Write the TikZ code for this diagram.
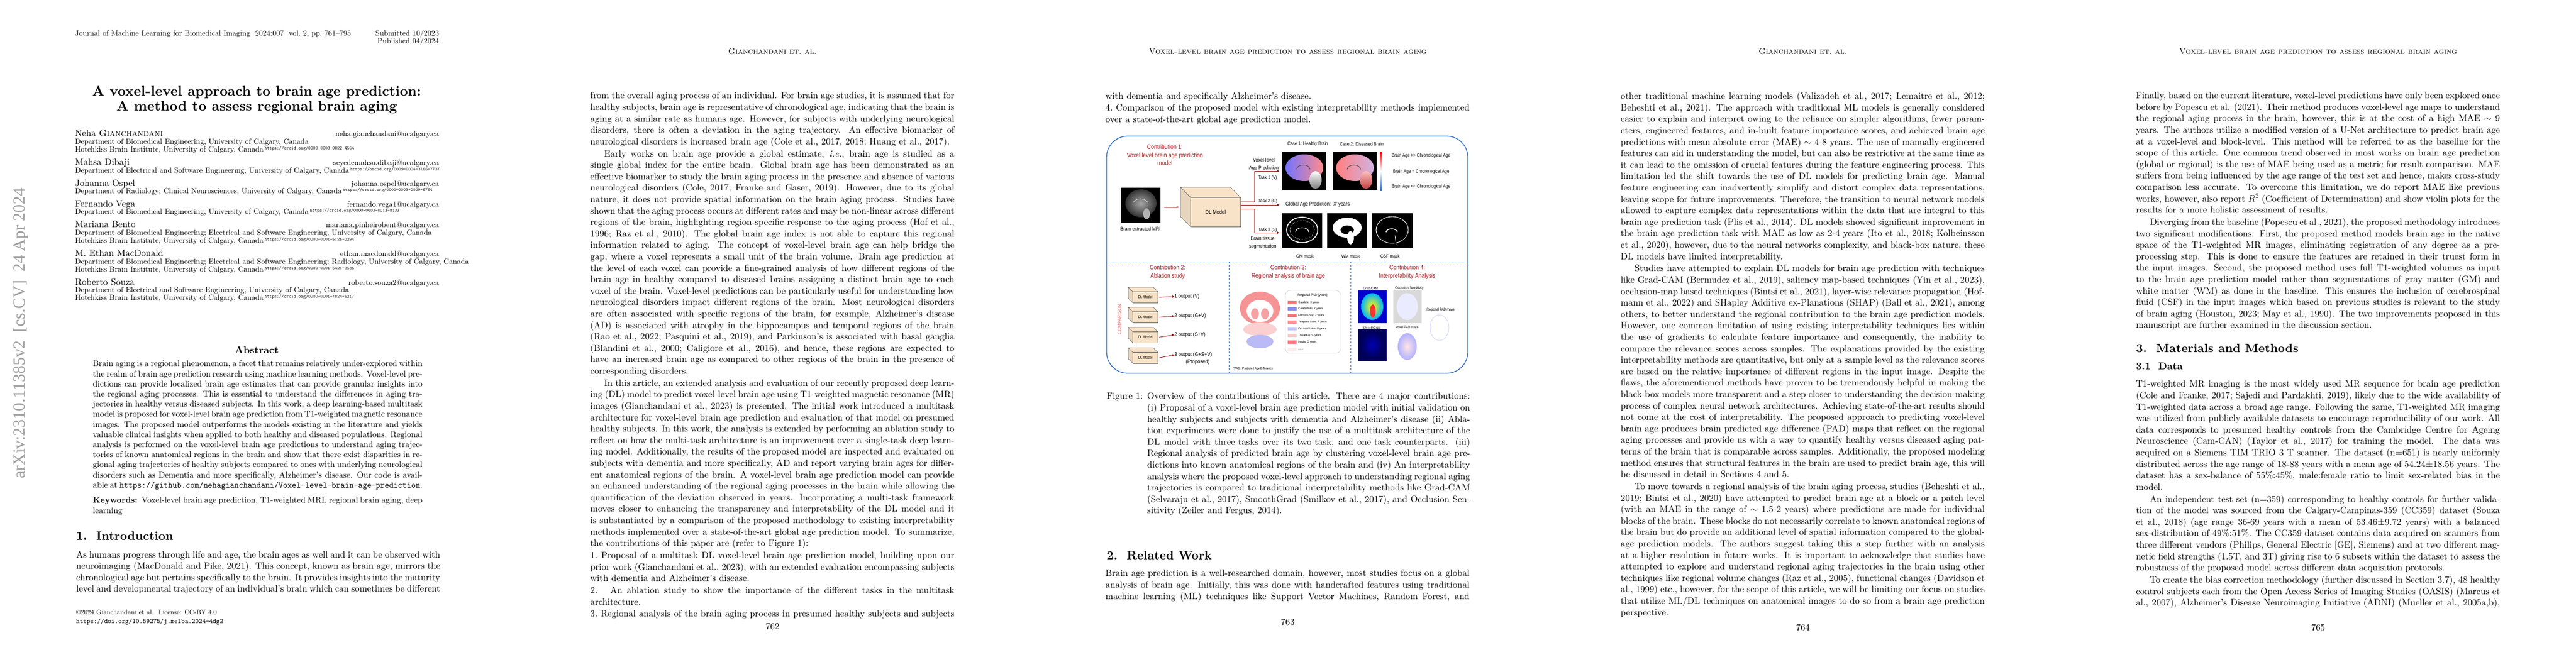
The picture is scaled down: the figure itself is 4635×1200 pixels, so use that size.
\documentclass[tikz,border=0pt]{standalone}
\usepackage{fontspec}
\setmainfont{lmroman10-regular.otf}[BoldFont=lmroman10-bold.otf,ItalicFont=lmroman10-italic.otf,BoldItalicFont=lmroman10-bolditalic.otf,SmallCapsFont=lmromancaps10-regular.otf]
\setmonofont{lmmono10-regular.otf}
\newfontfamily\fsans[FakeStretch=0.86]{Liberation Sans}
\newfontfamily\stampfont{Liberation Serif}
\usetikzlibrary{arrows.meta,calc}
\definecolor{cred}{HTML}{A3161B}
\definecolor{carr}{HTML}{9B1B1B}
\definecolor{cblue}{HTML}{2E6CC0}
\definecolor{cbeige}{HTML}{F9E3C8}
\definecolor{cpink}{HTML}{F2797B}
\definecolor{clblue}{HTML}{8C8CF0}
\newcommand{\body}{\fontsize{16.6}{20.6}\selectfont}
\newcommand{\ptblock}[4]{\node[anchor=north west,inner sep=0pt] (#1) at (#2,#3) {\begin{minipage}{655pt}\body\setlength\parindent{25pt}\setlength\parskip{1.2pt}#4\end{minipage}};}
\newcommand{\mycube}[7]{%
 \fill[cbeige,draw=gray!80!black,line width=0.5pt] (#2,#3) -- ({#2-#6},{#3-#6}) -- ({#2+#4-#6},{#3-#6}) -- ({#2+#4},#3) -- cycle;
 \fill[cbeige!85!gray,draw=gray!80!black,line width=0.5pt] (#2,#3) -- ({#2-#6},{#3-#6}) -- ({#2-#6},{#3+#5-#6}) -- (#2,{#3+#5}) -- cycle;
 \node[fill=cbeige,draw=gray!80!black,line width=0.5pt,minimum width=#4pt,minimum height=#5pt,anchor=north west,inner sep=0pt,font=\fsans\fontsize{#7}{#7}\selectfont] (#1) at (#2,#3) {DL Model};}
\tikzset{
 arr/.style={carr,line width=0.9pt,-{Triangle[length=4pt,width=4pt]}},
 fl/.style={inner sep=0pt,font=\fsans\fontsize{8.6}{10}\selectfont},
 ctitle/.style={inner sep=0pt,text=cred,align=center,font=\fsans\fontsize{11.5}{14.5}\selectfont},
 leg/.style={inner sep=0pt,anchor=west,font=\fsans\fontsize{5.6}{6}\selectfont},
 hdr/.style={inner sep=0pt,anchor=base,font=\fontsize{15}{18}\selectfont\scshape},
 pno/.style={inner sep=0pt,anchor=base,font=\fontsize{16.6}{20}\selectfont},
 sect/.style={inner sep=0pt,anchor=base west,font=\fontsize{21.8}{26}\selectfont\bfseries},
 aname/.style={inner sep=0pt,anchor=base west,font=\fontsize{16.6}{20}\selectfont},
 adept/.style={inner sep=0pt,anchor=base west,font=\fontsize{13.6}{16}\selectfont},
 amail/.style={inner sep=0pt,anchor=base east,font=\fontsize{13.6}{16}\selectfont},
}
\newcommand{\orc}[1]{\,\raisebox{4pt}{\ttfamily\fontsize{8.3}{9}\selectfont https://orcid.org/#1}}
\begin{document}
\begin{tikzpicture}[x=1pt,y=-1pt]
\useasboundingbox (0,0) rectangle (4635,1200);
\fill[white] (0,0) rectangle (4635,1200);
% ================= PAGE 1 =================
\node[rotate=90,inner sep=0pt,text=gray!75] (stamp) at (37,600) {\stampfont\fontsize{30}{30}\selectfont arXiv:2310.11385v2\ \ [cs.CV]\ \ 24 Apr 2024};
\node[inner sep=0pt,anchor=base west,font=\fontsize{13.6}{16}\selectfont] (jn) at (135,64) {Journal of Machine Learning for Biomedical Imaging\ \ 2024:007\ \ vol.~2, pp.~761--795};
\node[inner sep=0pt,anchor=base east,font=\fontsize{13.6}{16}\selectfont] (sub) at (790,64) {Submitted 10/2023};
\node[inner sep=0pt,anchor=base east,font=\fontsize{13.6}{16}\selectfont] (pub) at (790,78) {Published 04/2024};
\node[inner sep=0pt,anchor=base,font=\fontsize{25}{30}\selectfont\bfseries] (t1) at (462,172) {A voxel-level approach to brain age prediction:};
\node[inner sep=0pt,anchor=base,font=\fontsize{25}{30}\selectfont\bfseries] (t2) at (462,199) {A method to assess regional brain aging};
\node[aname] (n1) at (135,245) {Neha \textsc{Gianchandani}};
\node[amail] (e1) at (790,245) {neha.gianchandani@ucalgary.ca};
\node[adept] (d1a) at (135,259) {Department of Biomedical Engineering, University of Calgary, Canada};
\node[adept] (d1b) at (135,273) {Hotchkiss Brain Institute, University of Calgary, Canada\orc{0000-0003-0822-4554}};
\node[aname] (n2) at (135,297) {Mahsa Dibaji};
\node[amail] (e2) at (790,297) {seyedemahsa.dibaji@ucalgary.ca};
\node[adept] (d2a) at (135,311) {Department of Electrical and Software Engineering, University of Calgary, Canada\orc{0009-0004-3166-7737}};
\node[aname] (n3) at (135,335) {Johanna Ospel};
\node[amail] (e3) at (790,335) {johanna.ospel@ucalgary.ca};
\node[adept] (d3a) at (135,348) {Department of Radiology; Clinical Neurosciences, University of Calgary, Canada\orc{0000-0003-0029-6764}};
\node[aname] (n4) at (135,372) {Fernando Vega};
\node[amail] (e4) at (790,372) {fernando.vega1@ucalgary.ca};
\node[adept] (d4a) at (135,385) {Department of Biomedical Engineering, University of Calgary, Canada\orc{0000-0003-0013-8133}};
\node[aname] (n5) at (135,409) {Mariana Bento};
\node[amail] (e5) at (790,409) {mariana.pinheirobent@ucalgary.ca};
\node[adept] (d5a) at (135,423) {Department of Biomedical Engineering; Electrical and Software Engineering, University of Calgary, Canada};
\node[adept] (d5b) at (135,437) {Hotchkiss Brain Institute, University of Calgary, Canada\orc{0000-0001-5125-0294}};
\node[aname] (n6) at (135,461) {M. Ethan MacDonald};
\node[amail] (e6) at (790,461) {ethan.macdonald@ucalgary.ca};
\node[adept] (d6a) at (135,475) {Department of Biomedical Engineering; Electrical and Software Engineering; Radiology, University of Calgary, Canada};
\node[adept] (d6b) at (135,489) {Hotchkiss Brain Institute, University of Calgary, Canada\orc{0000-0001-5421-3536}};
\node[aname] (n7) at (135,513) {Roberto Souza};
\node[amail] (e7) at (790,513) {roberto.souza2@ucalgary.ca};
\node[adept] (d7a) at (135,526) {Department of Electrical and Software Engineering, University of Calgary, Canada};
\node[adept] (d7b) at (135,540) {Hotchkiss Brain Institute, University of Calgary, Canada\orc{0000-0001-7824-5217}};
\node[inner sep=0pt,anchor=base,font=\fontsize{18}{20}\selectfont\bfseries] (abs) at (462,636) {Abstract};
\node[anchor=north west,inner sep=0pt] (abst) at (167,649) {\begin{minipage}{593pt}\fontsize{15.15}{18.2}\selectfont
Brain aging is a regional phenomenon, a facet that remains relatively under-explored within the realm of brain age prediction research using machine learning methods. Voxel-level predictions can provide localized brain age estimates that can provide granular insights into the regional aging processes. This is essential to understand the differences in aging trajectories in healthy versus diseased subjects. In this work, a deep learning-based multitask model is proposed for voxel-level brain age prediction from T1-weighted magnetic resonance images. The proposed model outperforms the models existing in the literature and yields valuable clinical insights when applied to both healthy and diseased populations. Regional analysis is performed on the voxel-level brain age predictions to understand aging trajectories of known anatomical regions in the brain and show that there exist disparities in regional aging trajectories of healthy subjects compared to ones with underlying neurological disorders such as Dementia and more specifically, Alzheimer's disease. Our code is available at \texttt{https://github.com/nehagianchandani/Voxel-level-brain-age-prediction}.\par\vspace{9.5pt}
\textbf{Keywords:}\ \ Voxel-level brain age prediction, T1-weighted MRI, regional brain aging, deep learning\end{minipage}};
\node[sect] (s1) at (137,972) {1.\ \ Introduction};
\node[anchor=north west,inner sep=0pt] (p1t) at (137,992) {\begin{minipage}{655pt}\body
As humans progress through life and age, the brain ages as well and it can be observed with neuroimaging (MacDonald and Pike, 2021). This concept, known as brain age, mirrors the chronological age but pertains specifically to the brain. It provides insights into the maturity level and developmental trajectory of an individual's brain which can sometimes be different{\parfillskip=0pt\par}\end{minipage}};
\node[inner sep=0pt,anchor=north west,align=left,font=\fontsize{12}{16}\selectfont] (copy) at (137,1098) {\copyright2024 Gianchandani et al.. License: CC-BY 4.0\\ \texttt{https://doi.org/10.59275/j.melba.2024-4dg2}};
% ================= PAGE 2 =================
\node[hdr] (h2) at (1390,97) {Gianchandani et.\ al.};
\ptblock{p2t}{1062}{166}{\noindent from the overall aging process of an individual. For brain age studies, it is assumed that for healthy subjects, brain age is representative of chronological age, indicating that the brain is aging at a similar rate as humans age. However, for subjects with underlying neurological disorders, there is often a deviation in the aging trajectory. An effective biomarker of neurological disorders is increased brain age (Cole et al., 2017, 2018; Huang et al., 2017).

Early works on brain age provide a global estimate, \textit{i.e.}, brain age is studied as a single global index for the entire brain. Global brain age has been demonstrated as an effective biomarker to study the brain aging process in the presence and absence of various neurological disorders (Cole, 2017; Franke and Gaser, 2019). However, due to its global nature, it does not provide spatial information on the brain aging process. Studies have shown that the aging process occurs at different rates and may be non-linear across different regions of the brain, highlighting region-specific response to the aging process (Hof et al., 1996; Raz et al., 2010). The global brain age index is not able to capture this regional information related to aging. The concept of voxel-level brain age can help bridge the gap, where a voxel represents a small unit of the brain volume. Brain age prediction at the level of each voxel can provide a fine-grained analysis of how different regions of the brain age in healthy compared to diseased brains assigning a distinct brain age to each voxel of the brain. Voxel-level predictions can be particularly useful for understanding how neurological disorders impact different regions of the brain. Most neurological disorders are often associated with specific regions of the brain, for example, Alzheimer's disease (AD) is associated with atrophy in the hippocampus and temporal regions of the brain (Rao et al., 2022; Pasquini et al., 2019), and Parkinson's is associated with basal ganglia (Blandini et al., 2000; Caligiore et al., 2016), and hence, these regions are expected to have an increased brain age as compared to other regions of the brain in the presence of corresponding disorders.

In this article, an extended analysis and evaluation of our recently proposed deep learning (DL) model to predict voxel-level brain age using T1-weighted magnetic resonance (MR) images (Gianchandani et al., 2023) is presented. The initial work introduced a multitask architecture for voxel-level brain age prediction and evaluation of that model on presumed healthy subjects. In this work, the analysis is extended by performing an ablation study to reflect on how the multi-task architecture is an improvement over a single-task deep learning model. Additionally, the results of the proposed model are inspected and evaluated on subjects with dementia and more specifically, AD and report varying brain ages for different anatomical regions of the brain. A voxel-level brain age prediction model can provide an enhanced understanding of the regional aging processes in the brain while allowing the quantification of the deviation observed in years. Incorporating a multi-task framework moves closer to enhancing the transparency and interpretability of the DL model and it is substantiated by a comparison of the proposed methodology to existing interpretability methods implemented over a state-of-the-art global age prediction model. To summarize, the contributions of this paper are (refer to Figure 1):

\noindent 1.~Proposal of a multitask DL voxel-level brain age prediction model, building upon our prior work (Gianchandani et al., 2023), with an extended evaluation encompassing subjects with dementia and Alzheimer's disease.

\noindent 2.~ An ablation study to show the importance of the different tasks in the multitask architecture.

\noindent 3.~Regional analysis of the brain aging process in presumed healthy subjects and subjects{\parfillskip=0pt\par}}
\node[pno] (pn2) at (1390,1133) {762};
% ================= PAGE 3 =================
\node[hdr] (h3) at (2317,97) {Voxel-level brain age prediction to assess regional brain aging};
\ptblock{p3t}{1989}{166}{\noindent with dementia and specifically Alzheimer's disease.

\noindent 4.~Comparison of the proposed model with existing interpretability methods implemented over a state-of-the-art global age prediction model.}
% ---- figure ----
\draw[cblue,line width=1.3pt,rounded corners=38pt] (1991,245) rectangle (2641,672);
\coordinate (hl) at (1991,471); \coordinate (hr) at (2641,471);
\draw[cblue,line width=1pt,dashed] (hl) -- (hr);
\coordinate (v1t) at (2211,471); \coordinate (v1b) at (2211,672);
\coordinate (v2t) at (2430,471); \coordinate (v2b) at (2430,672);
\draw[cblue,line width=1pt,dashed] (v1t) -- (v1b);
\draw[cblue,line width=1pt,dashed] (v2t) -- (v2b);
\node[ctitle] (c1) at (2096,279) {Contribution 1:\\Voxel level brain age prediction\\model};
% MRI
\node[fill=black,minimum width=71pt,minimum height=63pt,inner sep=0pt] (mri) at (2052.5,369.5) {};
\shade[inner color=gray!70,outer color=gray!40!black] (2053,366) ellipse (28pt and 25pt);
\draw[white!80!gray,line width=0.6pt] (2038,368) arc (180:0:14pt and 10pt);
\fill[gray!60] (2063,385) ellipse (6pt and 10pt);
\node[fl,font=\fsans\fontsize{9.5}{11}\selectfont] (mril) at (2052,412) {Brain extracted MRI};
% DL model cube
\mycube{dl}{2142}{355}{90}{53}{18}{10}
\coordinate (ma) at (2095,373);
\coordinate (mb) at (2121,373);
\draw[arr] (ma) -- (mb);
% tasks
\coordinate (t1a) at (2232,363); \coordinate (t1b) at (2257,363); \coordinate (t1c) at (2257,308); \coordinate (t1d) at (2302,308);
\coordinate (t2a) at (2232,369); \coordinate (t2d) at (2302,369);
\coordinate (t3a) at (2232,376); \coordinate (t3b) at (2257,376); \coordinate (t3c) at (2257,419); \coordinate (t3d) at (2302,419);
\draw[arr] (t1a) -- (t1b) -- (t1c) -- (t1d);
\draw[arr] (t2a) -- (t2d);
\draw[arr] (t3a) -- (t3b) -- (t3c) -- (t3d);
\node[fl,align=center,font=\fsans\fontsize{9.5}{13.5}\selectfont] (vl) at (2274,296) {Voxel-level\\Age Prediction};
\node[fl] (tk1) at (2281,320) {Task 1 (V)};
\node[fl] (tk2) at (2281,362) {Task 2 (G)};
\node[fl] (tk3) at (2281,414) {Task 3 (S)};
\node[fl,align=center,font=\fsans\fontsize{9.5}{13.5}\selectfont] (bts) at (2272,437) {Brain tissue\\segmentation};
% case images
\node[fl] (cs1) at (2353,259) {Case 1: Healthy Brain};
\node[fl] (cs2) at (2450,259) {Case 2: Diseased Brain};
\node[fill=black,minimum width=79pt,minimum height=70pt,inner sep=0pt] (cb1) at (2346.5,308) {};
\node[fill=black,minimum width=79pt,minimum height=70pt,inner sep=0pt] (cb2) at (2437.5,308) {};
\shade[left color=blue!55!white,right color=red!45!white] (2347,302) ellipse (34pt and 24pt);
\shade[top color=white,bottom color=gray] (2367,324) ellipse (11pt and 16pt);
\draw[gray!60!black,line width=1pt] (2333,305) arc (180:0:12pt and 8pt);
\shade[left color=red!50!white,right color=red!40!blue!30!white] (2438,302) ellipse (34pt and 24pt);
\shade[top color=red!25!white,bottom color=red!50!gray] (2458,324) ellipse (11pt and 16pt);
\draw[gray!60!black,line width=1pt] (2424,305) arc (180:0:12pt and 8pt);
\shade[top color=red,bottom color=cblue,middle color=white] (2483,273) rectangle (2487,343);
\node[fl] (ba1) at (2557,280) {Brain Age >{}> Chronological Age};
\node[fl] (ba2) at (2557,309) {Brain Age = Chronological Age};
\node[fl] (ba3) at (2557,336) {Brain Age <{}< Chronological Age};
\node[fl,anchor=west,font=\fsans\fontsize{9.5}{11}\selectfont] (gap) at (2313,368) {Global Age Prediction: 'X' years};
% masks
\node[fill=black,minimum width=72pt,minimum height=63pt,inner sep=0pt] (gm) at (2343,415.5) {};
\node[fill=black,minimum width=72pt,minimum height=63pt,inner sep=0pt] (wm) at (2424,415.5) {};
\node[fill=black,minimum width=73pt,minimum height=63pt,inner sep=0pt] (csf) at (2505.5,415.5) {};
\draw[white,line width=1.6pt] (2343,414) ellipse (28pt and 23pt);
\draw[white,line width=1pt] (2331,418) arc (180:0:12pt and 8pt);
\draw[white,line width=0.8pt,dotted] (2343,414) ellipse (22pt and 17pt);
\fill[white] (2424,410) ellipse (26pt and 18pt);
\fill[black] (2424,414) ellipse (12pt and 8pt);
\fill[white] (2430,428) ellipse (6pt and 12pt);
\draw[white,line width=0.9pt] (2505,414) ellipse (29pt and 24pt);
\draw[white,line width=1.5pt] (2494,418) arc (180:0:10pt and 6pt);
\draw[white,line width=0.8pt] (2510,424) -- (2512,440);
\node[fl] (gml) at (2348,461) {GM mask};
\node[fl] (wml) at (2430,461) {WM mask};
\node[fl] (csfl) at (2501,461) {CSF mask};
% contribution 2
\node[ctitle] (c2) at (2101,490) {Contribution 2:\\Ablation study};
\node[rotate=90,inner sep=0pt,text=cpink!90!red,font=\fsans\fontsize{9.5}{10}\selectfont] (cmp) at (2014,575) {COMPARISON};
\mycube{m1}{2038}{525}{45}{20}{8}{7}
\mycube{m2}{2038}{561}{45}{20}{8}{7}
\mycube{m3}{2038}{597}{45}{20}{8}{7}
\mycube{m4}{2038}{634}{45}{20}{8}{7}
\node[fl,anchor=west,font=\fsans\fontsize{10}{11}\selectfont] (o1) at (2113,534) {1 output (V)};
\node[fl,anchor=west,font=\fsans\fontsize{10}{11}\selectfont] (o2) at (2113,569) {2 output (G+V)};
\node[fl,anchor=west,font=\fsans\fontsize{10}{11}\selectfont] (o3) at (2113,603) {2 output (S+V)};
\node[fl,anchor=west,font=\fsans\fontsize{10}{11}\selectfont] (o4) at (2113,639) {3 output (G+S+V)};
\node[fl,font=\fsans\fontsize{10}{11}\selectfont] (o5) at (2155,652) {(Proposed)};
\draw[arr] ($(m1.east)+(2,0)$) -- (o1.west);
\draw[arr] ($(m2.east)+(2,0)$) -- (o2.west);
\draw[arr] ($(m3.east)+(2,0)$) -- (o3.west);
\draw[arr] ($(m4.east)+(2,0)$) -- (o4.west);
% contribution 3
\node[ctitle] (c3) at (2318,490) {Contribution 3:\\Regional analysis of brain age};
\fill[cpink!80] (2267,555) ellipse (36pt and 30pt);
\fill[white] (2267,560) ellipse (24pt and 20pt);
\fill[cpink!70] (2258,565) ellipse (7pt and 10pt);
\fill[cpink!70] (2276,565) ellipse (7pt and 10pt);
\fill[cpink!35] (2267,593) ellipse (30pt and 12pt);
\fill[clblue!60] (2267,615) ellipse (24pt and 12pt);
\node[draw=gray!50,rounded corners=8pt,minimum width=99pt,minimum height=113pt,inner sep=0pt] (lg) at (2362.5,579.5) {};
\node[fl,font=\fsans\fontsize{6.5}{7}\selectfont] (lgt) at (2362,532) {Regional PAD (years)};
\foreach \yy/\cc/\lbl in {545/cpink/{Caudate: X years},556/clblue/{Cerebellum: Y years},568/cpink/{Frontal Lobe: Z years},580/cpink!80/{Temporal Lobe: A years},592/clblue!50/{Occipital Lobe: B years},604/cpink!40/{Thalamus: C years},616/cpink/{Insula: D years}}{
 \fill[\cc] (2317,{\yy-3}) rectangle (2333,{\yy+3});
 \node[leg] at (2336,\yy) {\lbl};}
\fill[cpink!15] (2317,626) rectangle (2333,632);
\node[leg] (lgd) at (2336,629) {{.}{.}{.}{.}{.}{.}{.}};
\node[fl,anchor=west,font=\fsans\fontsize{5.8}{6}\selectfont] (padn) at (2219,664) {*PAD : Predicted Age Difference};
% contribution 4
\node[ctitle] (c4) at (2532,490) {Contribution 4:\\Interpretability Analysis};
\node[fl,font=\fsans\fontsize{6.5}{7}\selectfont] (gcl) at (2466,519) {Grad-CAM};
\node[fill=blue!80!black,minimum width=51pt,minimum height=59pt,inner sep=0pt] (gc) at (2469.5,552.5) {};
\shade[inner color=yellow,outer color=cyan!70!blue] (2469,552) ellipse (20pt and 24pt);
\fill[red!80] (2470,560) ellipse (5pt and 12pt);
\node[fl,font=\fsans\fontsize{6.5}{7}\selectfont] (osl) at (2536,519) {Occlusion Sensitivity};
\node[fill=gray!30,minimum width=51pt,minimum height=59pt,inner sep=0pt] (os) at (2532.5,552.5) {};
\fill[white!92!blue] (2532,552) ellipse (19pt and 24pt);
\node[fl,font=\fsans\fontsize{6.5}{7}\selectfont] (sgl) at (2468,590) {SmoothGrad};
\node[fill=blue!35!black,minimum width=51pt,minimum height=57pt,inner sep=0pt] (sg) at (2469.5,621.5) {};
\shade[inner color=blue!70!black,outer color=blue!35!black] (2469,621) ellipse (20pt and 24pt);
\node[fl,font=\fsans\fontsize{6.5}{7}\selectfont] (vpl) at (2532,590) {Voxel PAD maps};
\shade[inner color=red!10!white,outer color=blue!30!white] (2532,624) ellipse (17pt and 24pt);
\node[fl,font=\fsans\fontsize{6.5}{7}\selectfont] (rpl) at (2592,558) {Regional PAD maps};
\draw[blue!15,line width=1pt] (2590,590) ellipse (17pt and 23pt);
% caption
\node[anchor=north west,inner sep=0pt] (cap) at (1991,707) {\begin{minipage}{654pt}\body\hangindent=73pt\hangafter=1\noindent\makebox[73pt][l]{Figure 1:}Overview of the contributions of this article. There are 4 major contributions: (i) Proposal of a voxel-level brain age prediction model with initial validation on healthy subjects and subjects with dementia and Alzheimer's disease (ii) Ablation experiments were done to justify the use of a multitask architecture of the DL model with three-tasks over its two-task, and one-task counterparts. (iii) Regional analysis of predicted brain age by clustering voxel-level brain age predictions into known anatomical regions of the brain and (iv) An interpretability analysis where the proposed voxel-level approach to understanding regional aging trajectories is compared to traditional interpretability methods like Grad-CAM (Selvaraju et al., 2017), SmoothGrad (Smilkov et al., 2017), and Occlusion Sensitivity (Zeiler and Fergus, 2014).\end{minipage}};
\node[sect] (s2) at (1991,1007) {2.\ \ Related Work};
\ptblock{p3b}{1989}{1026}{\noindent Brain age prediction is a well-researched domain, however, most studies focus on a global analysis of brain age. Initially, this was done with handcrafted features using traditional machine learning (ML) techniques like Support Vector Machines, Random Forest, and{\parfillskip=0pt\par}}
\node[pno] (pn3) at (2317,1125) {763};
% ================= PAGE 4 =================
\node[hdr] (h4) at (3244,97) {Gianchandani et.\ al.};
\ptblock{p4t}{2916}{166}{\noindent other traditional machine learning models (Valizadeh et al., 2017; Lemaitre et al., 2012; Beheshti et al., 2021). The approach with traditional ML models is generally considered easier to explain and interpret owing to the reliance on simpler algorithms, fewer parameters, engineered features, and in-built feature importance scores, and achieved brain age predictions with mean absolute error (MAE) $\sim$ 4-8 years. The use of manually-engineered features can aid in understanding the model, but can also be restrictive at the same time as it can lead to the omission of crucial features during the feature engineering process. This limitation led the shift towards the use of DL models for predicting brain age. Manual feature engineering can inadvertently simplify and distort complex data representations, leaving scope for future improvements. Therefore, the transition to neural network models allowed to capture complex data representations within the data that are integral to this brain age prediction task (Plis et al., 2014). DL models showed significant improvement in the brain age prediction task with MAE as low as 2-4 years (Ito et al., 2018; Kolbeinsson et al., 2020), however, due to the neural networks complexity, and black-box nature, these DL models have limited interpretability.

Studies have attempted to explain DL models for brain age prediction with techniques like Grad-CAM (Bermudez et al., 2019), saliency map-based techniques (Yin et al., 2023), occlusion-map based techniques (Bintsi et al., 2021), layer-wise relevance propagation (Hofmann et al., 2022) and SHapley Additive ex-Planations (SHAP) (Ball et al., 2021), among others, to better understand the regional contribution to the brain age prediction models. However, one common limitation of using existing interpretability techniques lies within the use of gradients to calculate feature importance and consequently, the inability to compare the relevance scores across samples. The explanations provided by the existing interpretability methods are quantitative, but only at a sample level as the relevance scores are based on the relative importance of different regions in the input image. Despite the flaws, the aforementioned methods have proven to be tremendously helpful in making the black-box models more transparent and a step closer to understanding the decision-making process of complex neural network architectures. Achieving state-of-the-art results should not come at the cost of interpretability. The proposed approach to predicting voxel-level brain age produces brain predicted age difference (PAD) maps that reflect on the regional aging processes and provide us with a way to quantify healthy versus diseased aging patterns of the brain that is comparable across samples. Additionally, the proposed modeling method ensures that structural features in the brain are used to predict brain age, this will be discussed in detail in Sections 4 and 5.

To move towards a regional analysis of the brain aging process, studies (Beheshti et al., 2019; Bintsi et al., 2020) have attempted to predict brain age at a block or a patch level (with an MAE in the range of $\sim$ 1.5-2 years) where predictions are made for individual blocks of the brain. These blocks do not necessarily correlate to known anatomical regions of the brain but do provide an additional level of spatial information compared to the global-age prediction models. The authors suggest taking this a step further with an analysis at a higher resolution in future works. It is important to acknowledge that studies have attempted to explore and understand regional aging trajectories in the brain using other techniques like regional volume changes (Raz et al., 2005), functional changes (Davidson et al., 1999) etc., however, for the scope of this article, we will be limiting our focus on studies that utilize ML/DL techniques on anatomical images to do so from a brain age prediction perspective.}
\node[pno] (pn4) at (3244,1135) {764};
% ================= PAGE 5 =================
\node[hdr] (h5) at (4171,97) {Voxel-level brain age prediction to assess regional brain aging};
\ptblock{p5t}{3843}{166}{\noindent Finally, based on the current literature, voxel-level predictions have only been explored once before by Popescu et al. (2021). Their method produces voxel-level age maps to understand the regional aging process in the brain, however, this is at the cost of a high MAE $\sim$ 9 years. The authors utilize a modified version of a U-Net architecture to predict brain age at a voxel-level and block-level. This method will be referred to as the baseline for the scope of this article. One common trend observed in most works on brain age prediction (global or regional) is the use of MAE being used as a metric for result comparison. MAE suffers from being influenced by the age range of the test set and hence, makes cross-study comparison less accurate. To overcome this limitation, we do report MAE like previous works, however, also report $R^2$ (Coefficient of Determination) and show violin plots for the results for a more holistic assessment of results.

Diverging from the baseline (Popescu et al., 2021), the proposed methodology introduces two significant modifications. First, the proposed method models brain age in the native space of the T1-weighted MR images, eliminating registration of any degree as a pre-processing step. This is done to ensure the features are retained in their truest form in the input images. Second, the proposed method uses full T1-weighted volumes as input to the brain age prediction model rather than segmentations of gray matter (GM) and white matter (WM) as done in the baseline. This ensures the inclusion of cerebrospinal fluid (CSF) in the input images which based on previous studies is relevant to the study of brain aging (Houston, 2023; May et al., 1990). The two improvements proposed in this manuscript are further examined in the discussion section.}
\node[sect] (s3) at (3843,634) {3.\ \ Materials and Methods};
\node[inner sep=0pt,anchor=base west,font=\fontsize{18}{20}\selectfont\bfseries] (s31) at (3843,665) {3.1\ \ Data};
\ptblock{p5b}{3843}{685}{\noindent T1-weighted MR imaging is the most widely used MR sequence for brain age prediction (Cole and Franke, 2017; Sajedi and Pardakhti, 2019), likely due to the wide availability of T1-weighted data across a broad age range. Following the same, T1-weighted MR imaging was utilized from publicly available datasets to encourage reproducibility of our work. All data corresponds to presumed healthy controls from the Cambridge Centre for Ageing Neuroscience (Cam-CAN) (Taylor et al., 2017) for training the model. The data was acquired on a Siemens TIM TRIO 3 T scanner. The dataset (n=651) is nearly uniformly distributed across the age range of 18-88 years with a mean age of 54.24$\pm$18.56 years. The dataset has a sex-balance of 55\%:45\%, male:female ratio to limit sex-related bias in the model.

An independent test set (n=359) corresponding to healthy controls for further validation of the model was sourced from the Calgary-Campinas-359 (CC359) dataset (Souza et al., 2018) (age range 36-69 years with a mean of 53.46$\pm$9.72 years) with a balanced sex-distribution of 49\%:51\%. The CC359 dataset contains data acquired on scanners from three different vendors (Philips, General Electric [GE], Siemens) and at two different magnetic field strengths (1.5T, and 3T) giving rise to 6 subsets within the dataset to assess the robustness of the proposed model across different data acquisition protocols.

To create the bias correction methodology (further discussed in Section 3.7), 48 healthy control subjects each from the Open Access Series of Imaging Studies (OASIS) (Marcus et al., 2007), Alzheimer's Disease Neuroimaging Initiative (ADNI) (Mueller et al., 2005a,b),{\parfillskip=0pt\par}}
\node[pno] (pn5) at (4171,1135) {765};
\end{tikzpicture}
\end{document}
